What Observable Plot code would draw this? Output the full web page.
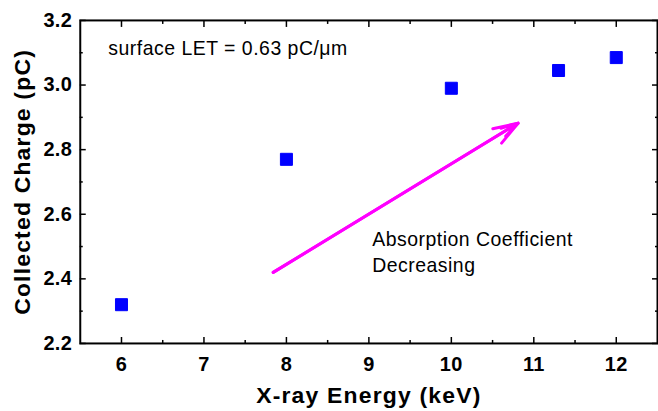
<!DOCTYPE html>
<html>
<head>
<meta charset="utf-8">
<script src="https://cdn.jsdelivr.net/npm/d3@7"></script>
<script src="https://cdn.jsdelivr.net/npm/@observablehq/plot@0.6"></script>
<style>
  html, body { margin: 0; padding: 0; background: #fff; overflow: hidden; }
  #chart svg { display: block; font-family: "Liberation Sans", Arial, sans-serif; }
</style>
</head>
<body>
<div id="chart"></div>
<script>
// Collected charge versus X-ray energy
const energy = [6, 8, 10, 11.3, 12];          // keV
const charge = [2.32, 2.77, 2.99, 3.045, 3.085]; // pC

const xMajor = [6, 7, 8, 9, 10, 11, 12];
const xMinor = [6.5, 7.5, 8.5, 9.5, 10.5, 11.5];
const yMajor = [2.2, 2.4, 2.6, 2.8, 3.0, 3.2];
const yMinor = [2.3, 2.5, 2.7, 2.9, 3.1];

const xTitle = "X-ray Energy (keV)";
const yTitle = "Collected Charge (pC)";
const letNote = ["surface LET = 0.63 pC/\u03BCm"];
const letNoteAt = [5.84, 3.113];
const trendNote = ["Absorption Coefficient\nDecreasing"];
const trendNoteAt = [9.04, 2.487];
const arrowFrom = [7.84, 2.42];
const arrowTo = [10.81, 2.882];

const points = energy.map((e, i) => ({energy: e, charge: charge[i]}));

const chart = Plot.plot({
  width: 660,
  height: 411,
  marginLeft: 80,
  marginRight: 1,
  marginTop: 20,
  marginBottom: 67,
  style: {fontFamily: '"Liberation Sans", Arial, sans-serif', color: "#000"},
  x: {domain: [5.5, 12.5]},
  y: {domain: [2.2, 3.2]},
  marks: [
    // tick labels
    Plot.axisX({ticks: xMajor, tickSize: 0, tickPadding: 13, tickFormat: d => String(d), fontSize: 20, fontWeight: "bold", label: null}),
    Plot.axisY({ticks: yMajor, tickSize: 0, tickPadding: 8, tickFormat: d => d.toFixed(1), fontSize: 20, fontWeight: "bold", label: null}),
    // inward tick marks on all four sides
    Plot.axisX({anchor: "bottom", ticks: xMajor, tickSize: -6, strokeWidth: 1.5, text: null, label: null}),
    Plot.axisX({anchor: "bottom", ticks: xMinor, tickSize: -3, strokeWidth: 1.5, text: null, label: null}),
    Plot.axisX({anchor: "top", ticks: xMajor, tickSize: -6, strokeWidth: 1.5, text: null, label: null}),
    Plot.axisX({anchor: "top", ticks: xMinor, tickSize: -3, strokeWidth: 1.5, text: null, label: null}),
    Plot.axisY({anchor: "left", ticks: yMajor, tickSize: -6, strokeWidth: 1.5, text: null, label: null}),
    Plot.axisY({anchor: "left", ticks: yMinor, tickSize: -3, strokeWidth: 1.5, text: null, label: null}),
    Plot.axisY({anchor: "right", ticks: yMajor, tickSize: -6, strokeWidth: 1.5, text: null, label: null}),
    Plot.axisY({anchor: "right", ticks: yMinor, tickSize: -3, strokeWidth: 1.5, text: null, label: null}),
    Plot.frame({stroke: "#000", strokeWidth: 2}),
    // axis titles
    Plot.text([xTitle], {frameAnchor: "bottom", dy: 60, fontSize: 23, fontWeight: "bold", fill: "#000"}),
    Plot.text([yTitle], {frameAnchor: "left", dx: -58, rotate: -90, textAnchor: "middle", fontSize: 23, fontWeight: "bold", fill: "#000"}),
    // annotations
    Plot.text(letNote, {x: letNoteAt[0], y: letNoteAt[1], textAnchor: "start", fontSize: 19.5, fill: "#000"}),
    Plot.text(trendNote, {x: trendNoteAt[0], y: trendNoteAt[1], textAnchor: "start", fontSize: 19.5, lineHeight: 1.33, fill: "#000"}),
    Plot.arrow([0], {x1: arrowFrom[0], y1: arrowFrom[1], x2: arrowTo[0], y2: arrowTo[1], stroke: "#ff00ff", strokeWidth: 3, headLength: 13, headAngle: 38}),
    Plot.arrow([0], {x1: arrowFrom[0], y1: arrowFrom[1], x2: arrowTo[0], y2: arrowTo[1], stroke: "#ff00ff", strokeWidth: 3, headLength: 9, headAngle: 30}),
    // data
    Plot.dot(points, {x: "energy", y: "charge", symbol: "square", r: 6.8, fill: "#0000ff", stroke: "#0000ff", strokeWidth: 1, strokeLinejoin: "round"})
  ]
});

// widen the lettering a little, as in the original figure's typeface
const svg = d3.select(chart);
svg.selectAll("text").each(function() {
  const t = this.textContent;
  let ls = null;
  if (t === xTitle || t === yTitle) ls = "1.2px";
  else if (t.startsWith("surface") || t.startsWith("Absorption")) ls = "0.5px";
  else if (/^[0-9.]+$/.test(t)) ls = "0.4px";
  if (ls) this.setAttribute("letter-spacing", ls);
});

document.getElementById("chart").appendChild(chart);
</script>
</body>
</html>
